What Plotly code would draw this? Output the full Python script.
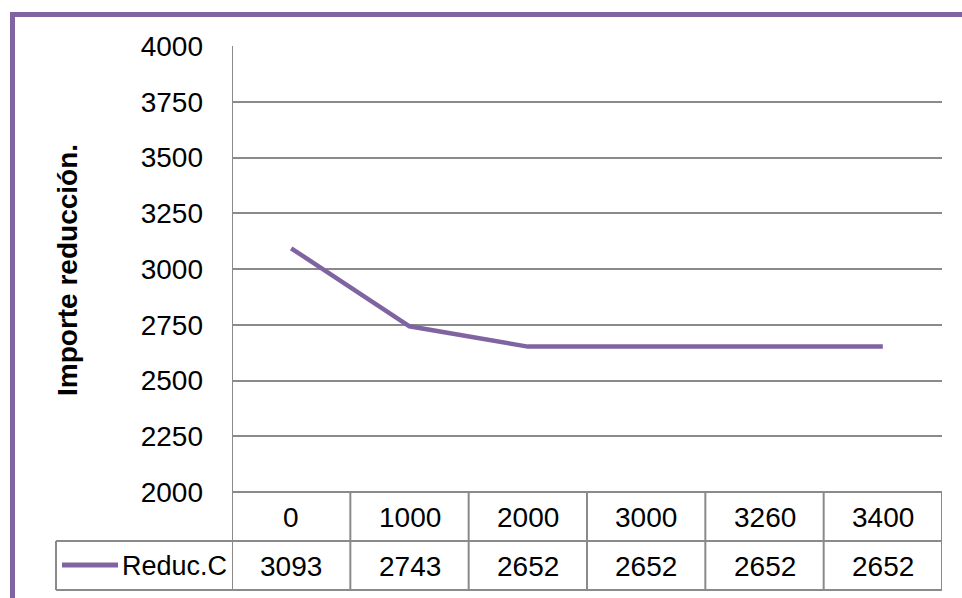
import plotly.graph_objects as go

# Series data
categories = ["0", "1000", "2000", "3000", "3260", "3400"]
reduc_c = [3093, 2743, 2652, 2652, 2652, 2652]
series_name = "Reduc.C"
y_title = "Importe reducción."
y_ticks = [2000, 2250, 2500, 2750, 3000, 3250, 3500, 3750, 4000]

# Layout geometry (pixels)
W, H = 962, 598
L, R, T, B = 232, 942, 46, 492
ROW1_BOTTOM, ROW2_BOTTOM = 541, 590
TABLE_LEFT = 56

PURPLE = "#8064A2"
GRID = "#8a8a8a"
FONT = "Liberation Sans, Arial, sans-serif"


def px(x):
    return (x - L) / (R - L)


def py(y):
    return (B - y) / (B - T)


fig = go.Figure()
fig.add_trace(go.Scatter(
    x=categories, y=reduc_c, mode="lines", name=series_name,
    line=dict(color=PURPLE, width=4.5), showlegend=False,
))

shapes = []
line_style = dict(color=GRID, width=2)

# Data table: horizontal rules
shapes.append(dict(type="line", xref="paper", yref="paper",
                   x0=0, x1=1, y0=py(B), y1=py(B), line=line_style))
for yy in (ROW1_BOTTOM, ROW2_BOTTOM):
    shapes.append(dict(type="line", xref="paper", yref="paper",
                       x0=px(TABLE_LEFT), x1=1, y0=py(yy), y1=py(yy), line=line_style))
# Data table: column separators on the category scale
for i in range(len(categories) + 1):
    xv = i - 0.5
    y_top = py(T) if i == 0 else py(B)
    shapes.append(dict(type="line", xref="x", yref="paper",
                       x0=xv, x1=xv, y0=y_top, y1=py(ROW2_BOTTOM), line=line_style))
# Left edge of the series row
shapes.append(dict(type="line", xref="paper", yref="paper",
                   x0=px(TABLE_LEFT), x1=px(TABLE_LEFT),
                   y0=py(ROW1_BOTTOM), y1=py(ROW2_BOTTOM), line=line_style))
# Legend key inside the table
shapes.append(dict(type="line", xref="paper", yref="paper",
                   x0=px(62), x1=px(118), y0=py(565), y1=py(565),
                   line=dict(color=PURPLE, width=5)))
# Outer chart frame
shapes.append(dict(type="line", xref="paper", yref="paper",
                   x0=px(12.5), x1=px(W + 5), y0=py(14.5), y1=py(14.5),
                   line=dict(color=PURPLE, width=5)))
shapes.append(dict(type="line", xref="paper", yref="paper",
                   x0=px(12.5), x1=px(12.5), y0=py(12), y1=py(H + 5),
                   line=dict(color=PURPLE, width=5)))

annotations = []
txt_font = dict(family=FONT, size=28, color="black")
for i, (cat, val) in enumerate(zip(categories, reduc_c)):
    # category positions on the x axis are indexed 0..n-1
    annotations.append(dict(x=i, xref="x", y=py(517), yref="paper",
                            text=cat, showarrow=False, font=txt_font,
                            xanchor="center", yanchor="middle"))
    annotations.append(dict(x=i, xref="x", y=py(566), yref="paper",
                            text=str(val), showarrow=False, font=txt_font,
                            xanchor="center", yanchor="middle"))
annotations.append(dict(x=px(120), xref="paper", y=py(566), yref="paper",
                        text=series_name, showarrow=False,
                        font=dict(family=FONT, size=27, color="black"),
                        xanchor="left", yanchor="middle"))
annotations.append(dict(x=px(67), xref="paper", y=py(270), yref="paper",
                        text="<b>" + y_title + "</b>", textangle=-90,
                        showarrow=False,
                        font=dict(family=FONT, size=28, color="black"),
                        xanchor="center", yanchor="middle"))

fig.update_layout(
    width=W, height=H,
    margin=dict(l=L, r=W - R, t=T, b=H - B, pad=0),
    paper_bgcolor="white", plot_bgcolor="white",
    shapes=shapes, annotations=annotations,
    xaxis=dict(type="category", range=[-0.5, len(categories) - 0.5],
               showticklabels=False, showgrid=False, zeroline=False,
               showline=False, ticks=""),
    yaxis=dict(range=[2000, 4000], tickvals=y_ticks,
               ticktext=[str(v) for v in y_ticks],
               showgrid=True, gridcolor=GRID, gridwidth=2,
               zeroline=False, showline=False, ticks="",
               ticklabelstandoff=28,
               tickfont=dict(family=FONT, size=28, color="black")),
    font=dict(family=FONT),
)

fig.write_html("out.html")
